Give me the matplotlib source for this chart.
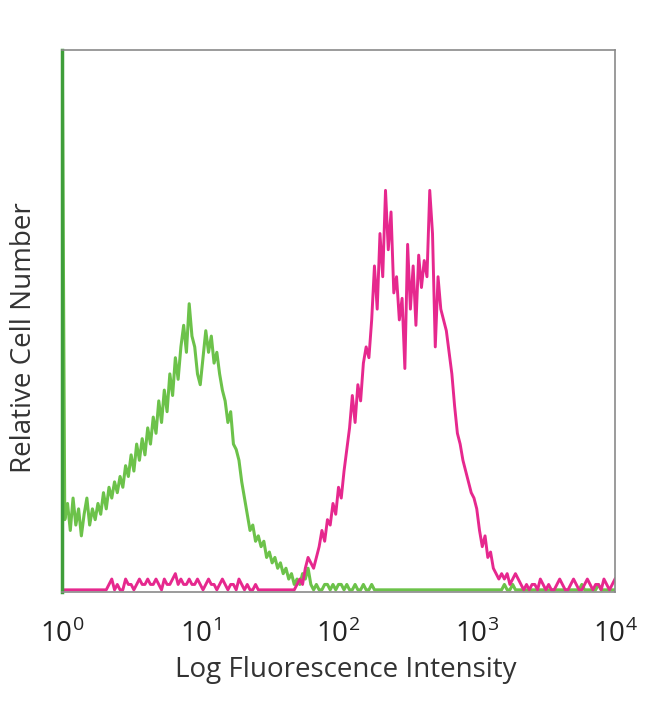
import numpy as np
import matplotlib
matplotlib.use('Agg')
import matplotlib.pyplot as plt

# histogram channels: 0.02 decade per channel, starting at 10^0
# isotype control (green)
green_counts = [110,
    13, 16, 11, 17, 12, 15, 10, 14, 17, 12, 15, 13,
    16, 14, 18, 15, 19, 17, 20, 18,
    21, 19, 23, 21, 25, 22, 27, 24,
    28, 25, 30, 27, 32, 29, 35, 31,
    37, 33, 40, 36, 43, 39,
    45, 49, 44, 53, 47,
    45, 40, 38, 43,
    48, 44, 47, 42,
    44, 40, 37, 35,
    31, 33, 27, 26,
    24, 20, 17, 14,
    11, 12, 9, 10,
    8, 9, 6, 7,
    5, 6, 4, 5,
    3, 4, 2, 3,
    1, 2, 1, 3,
    2, 4, 1,
    0, 1, 0, 0, 1, 1, 0, 1, 0, 1,
    1, 0, 1, 0, 0, 1, 0, 0, 1, 0,
    0, 1, 0, 0, 0, 0, 0, 0, 0, 0,
    0, 0, 0, 0, 0, 0, 0, 0, 0, 0,
    0, 0, 0, 0, 0, 0, 0, 0, 0, 0,
    0, 0, 0, 0, 0, 0, 0, 0, 0, 0,
    0, 0, 0, 0, 0, 0, 0, 0, 0, 1,
    0, 0, 1, 0, 0, 0, 0, 0, 0, 0,
    0, 0, 0, 0, 0, 0, 0, 0, 0, 0,
    0, 0, 0, 0, 0, 0, 0, 1, 0, 0,
    0, 0, 0, 1, 0, 0, 0, 0, 0, 0]

# stained sample (magenta)
magenta_counts = [0] * 17 + [
    1, 2, 0, 1, 0, 0, 2, 1, 1, 0, 1, 2, 1, 1,
    2, 1, 1, 2, 1, 0, 2, 1, 1, 2, 3, 1, 2, 1, 1,
    2, 1, 1, 2, 1, 0, 1, 2, 1, 1, 0, 1, 2, 1, 0,
    1, 1, 0, 2, 1, 0, 1, 0, 0, 1, 0, 0,
    0, 0, 0, 0, 0, 0, 0, 0, 0, 0, 0,
    0, 1, 2, 1, 4, 6, 5, 4, 6, 8,
    11, 9, 13, 12, 16, 14, 19, 17, 22, 26,
    30, 36, 31, 38, 35, 42, 45, 43, 50, 60,
    52, 66, 58, 74, 63, 70, 55, 58, 50, 54,
    41, 64, 52, 60, 49, 62, 56, 61, 58, 74,
    66, 45, 58, 52, 50, 48, 44, 40, 34, 29,
    27, 24, 22, 20, 18, 17, 15, 11, 8, 10,
    6, 7, 4, 3, 2, 3, 2, 3, 1, 2,
    3, 2, 1,
    0, 1, 0, 1, 1, 0, 2, 1, 0, 1, 0, 0, 1, 2, 1, 0, 0,
    1, 2, 1, 0, 0, 1, 2, 1, 0, 1, 1, 0, 2, 1, 0, 1, 2]

tick_labels = [r'$10^{0}$', r'$10^{1}$', r'$10^{2}$', r'$10^{3}$', r'$10^{4}$']

green_col = '#6cc24a'
magenta_col = '#e6288e'

plt.rcParams['font.family'] = ['Open Sans', 'DejaVu Sans']
plt.rcParams['mathtext.fontset'] = 'custom'
plt.rcParams['mathtext.rm'] = 'Open Sans'

fig = plt.figure(figsize=(6.5, 7.04), dpi=100)
ax = fig.add_axes([62 / 650, 1 - 592 / 704, 553 / 650, 542 / 704])

gx = 10 ** (np.arange(len(green_counts)) * 0.02)
mx = 10 ** (np.arange(len(magenta_counts)) * 0.02)

ax.plot(gx, green_counts, color=green_col, lw=2.2)
ax.plot(mx, magenta_counts, color=magenta_col, lw=2.1)

ax.set_xscale('log')
ax.set_xlim(1, 1e4)
ax.set_ylim(-0.4, 100)
ax.set_xticks([1, 10, 100, 1000, 10000])
ax.set_xticklabels(tick_labels)
ax.xaxis.set_minor_locator(plt.NullLocator())
ax.set_yticks([])
ax.tick_params(axis='x', length=0, pad=20, labelsize=20, colors='#222222')

for s in ['top', 'right', 'bottom']:
    ax.spines[s].set_color('#8a8a8a')
    ax.spines[s].set_linewidth(1.2)
ax.spines['left'].set_color('#3f9e3a')
ax.spines['left'].set_linewidth(2.5)

ax.set_xlabel('Log Fluorescence Intensity', fontsize=20, color='#333333')
ax.set_ylabel('Relative Cell Number', fontsize=20, color='#333333')
ax.xaxis.set_label_coords(0.513, -0.118)
ax.yaxis.set_label_coords(-0.043, 0.47)

fig.savefig('out.png', dpi=100)
